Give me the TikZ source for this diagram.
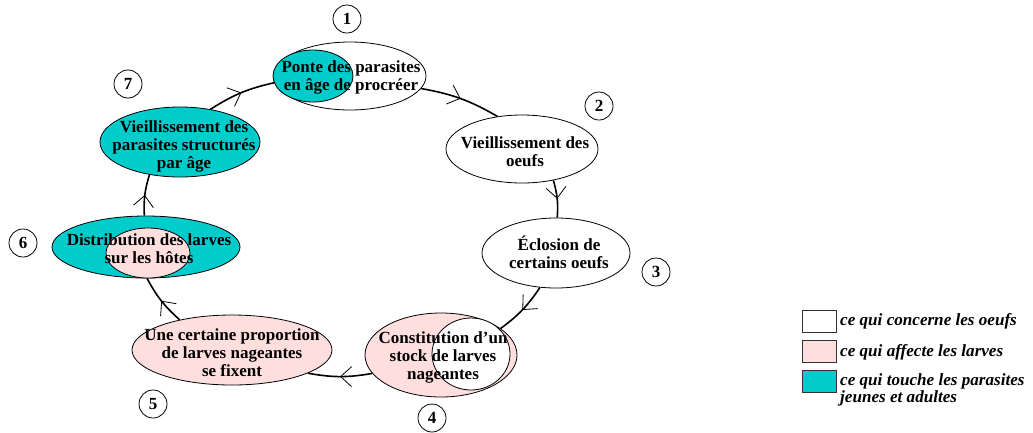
\documentclass[tikz,border=0pt]{standalone}
\usepackage{fontspec}
\setmainfont{Liberation Serif}
\usetikzlibrary{shapes.geometric,arrows.meta,decorations.markings}
\definecolor{tealc}{RGB}{0,204,204}
\definecolor{pinkc}{RGB}{255,222,222}
\begin{document}
\begin{tikzpicture}[x=1pt,y=1pt,
  ell/.style={ellipse, draw=black, line width=0.8pt, inner sep=0pt},
  txt/.style={font=\bfseries\fontsize{17}{18}\selectfont, align=center, inner sep=0pt},
  num/.style={circle, draw, line width=0.8pt, minimum size=28pt, inner sep=0pt, font=\bfseries\fontsize{17}{18}\selectfont},
  conn/.style={line width=1.6pt, bend left=10,
    decoration={markings, mark=at position 0.5 with {\arrow[line width=0.8pt]{Straight Barb[length=11pt,width=20pt]}}},
    postaction={decorate}},
  legbox/.style={draw=black!80, line width=0.7pt, minimum width=34pt, minimum height=22pt, inner sep=0pt},
  legtxt/.style={font=\bfseries\itshape\fontsize{17.1}{17}\selectfont, align=left, anchor=west, inner sep=0pt}
]
\useasboundingbox (0,0) rectangle (1033,-432);

% ellipses
\node[ell, fill=white, minimum width=152pt, minimum height=68pt] (e1) at (350,-76) {};
\node[ell, fill=tealc, minimum width=80pt, minimum height=52pt] (e1i) at (313,-76) {};
\node[ell, fill=white, minimum width=152pt, minimum height=68pt] (e2) at (522,-149) {};
\node[ell, fill=white, minimum width=148pt, minimum height=70pt] (e3) at (556,-253) {};
\node[ell, fill=pinkc, minimum width=152pt, minimum height=84pt] (e4) at (441,-355) {};
\node[ell, fill=white, minimum width=78pt, minimum height=72pt] (e4i) at (471,-354) {};
\node[ell, fill=pinkc, minimum width=200pt, minimum height=70pt] (e5) at (232,-350) {};
\node[ell, fill=tealc, minimum width=188pt, minimum height=62pt] (e6) at (146,-247) {};
\node[ell, fill=pinkc, minimum width=84pt, minimum height=50pt] (e6i) at (148,-253) {};
\node[ell, fill=tealc, minimum width=160pt, minimum height=70pt] (e7) at (180,-142) {};

% texts
\node[txt] (t1) at (351,-77) {Ponte des parasites\\en âge de procréer};
\node[txt] (t2) at (525,-152) {Vieillissement des\\oeufs};
\node[txt] (t3) at (559,-252) {Éclosion de\\certains oeufs};
\node[txt] (t4) at (443,-357) {Constitution d’un\\stock de larves\\nageantes};
\node[txt] (t5) at (232,-353) {Une certaine proportion\\de larves nageantes\\se fixent};
\node[txt] (t6) at (149,-249) {Distribution des larves\\sur les hôtes};
\node[txt] (t7) at (184,-146) {Vieillissement des\\parasites structurés\\par âge};

% numbers
\node[num] (n1) at (347,-19) {1};
\node[num] (n2) at (599,-106) {2};
\node[num] (n3) at (656,-272) {3};
\node[num] (n4) at (432,-418) {4};
\node[num] (n5) at (153,-404) {5};
\node[num] (n6) at (23,-243) {6};
\node[num] (n7) at (128,-84) {7};

% connectors
\draw[conn] (e1.-10) to (e2.127);
\draw[conn] (e2.-45) to (e3.88);
\draw[conn] (e3.-115) to (e4.24);
\draw[conn] (e4.-165) to (e5.-17);
\draw[conn] (e5.150) to (e6.-88);
\draw[conn] (e6.93) to (e7.-133);
\draw[conn] (e7.47) to (e1.-175);

% legend
\node[legbox, fill=white] (l1) at (819,-321) {};
\node[legbox, fill=pinkc] (l2) at (819,-351) {};
\node[legbox, fill=tealc] (l3) at (819,-381) {};
\node[legtxt] (lt1) at (840,-321) {ce qui concerne les oeufs};
\node[legtxt] (lt2) at (840,-352) {ce qui affecte les larves};
\node[legtxt] (lt3) at (840,-389.5) {ce qui touche les parasites\\jeunes et adultes};
\end{tikzpicture}
\end{document}
